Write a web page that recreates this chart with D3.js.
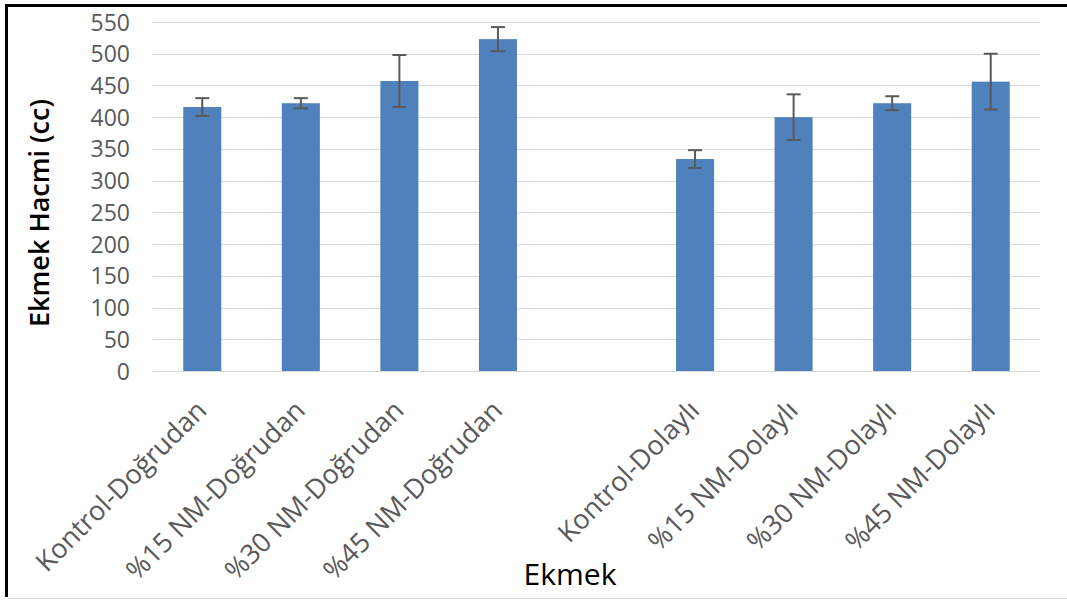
<!DOCTYPE html>
<html>
<head>
<meta charset="utf-8">
<script src="https://cdn.jsdelivr.net/npm/d3@7"></script>
<style>
  html, body { margin: 0; padding: 0; background: #fff; }
  svg { display: block; }
</style>
</head>
<body>
<svg id="chart" width="1067" height="600"></svg>
<script>
// ---- data ----
const categories = ["Kontrol-Doğrudan", "%15 NM-Doğrudan", "%30 NM-Doğrudan", "%45 NM-Doğrudan", "", "Kontrol-Dolaylı", "%15 NM-Dolaylı", "%30 NM-Dolaylı", "%45 NM-Dolaylı"];
const values = [416, 422, 457, 523, null, 334, 400, 422, 456];
const errors = [14, 8, 41, 19, null, 14, 36, 11, 44];
const yTicks = [0, 50, 100, 150, 200, 250, 300, 350, 400, 450, 500, 550];
const yTitle = "Ekmek Hacmi (cc)";
const xTitle = "Ekmek";

const svg = d3.select("#chart");
const W = 1067, H = 600;
const plot = { left: 153, right: 1040, top: 22, bottom: 371 };

const x = d3.scaleBand().domain(categories)
  .range([plot.left, plot.right]).paddingInner(0.614).paddingOuter(0.307);
const y = d3.scaleLinear().domain([0, 550]).range([plot.bottom, plot.top]);

const font = "'Open Sans', 'Noto Sans', sans-serif";

// frame
svg.append("rect").attr("x", 0).attr("y", 0).attr("width", W).attr("height", H).attr("fill", "#fff");
svg.append("line").attr("x1", 5).attr("x2", W).attr("y1", 5.5).attr("y2", 5.5).attr("stroke", "#000").attr("stroke-width", 3);
svg.append("line").attr("x1", 6.5).attr("x2", 6.5).attr("y1", 4).attr("y2", 597).attr("stroke", "#000").attr("stroke-width", 3);
svg.append("line").attr("x1", 8).attr("x2", W).attr("y1", 598.5).attr("y2", 598.5).attr("stroke", "#d9d9d9").attr("stroke-width", 1);

// gridlines
svg.append("g").selectAll("line").data(yTicks).join("line")
  .attr("x1", plot.left).attr("x2", plot.right)
  .attr("y1", d => Math.round(y(d)) + 0.5).attr("y2", d => Math.round(y(d)) + 0.5)
  .attr("stroke", "#d9d9d9").attr("stroke-width", 1);

// y axis labels
const yAxis = d3.axisLeft(y).tickValues(yTicks).tickSize(0).tickPadding(0);
const gy = svg.append("g").attr("transform", "translate(130,0)").call(yAxis);
gy.select(".domain").remove();
gy.selectAll("text").attr("font-family", font).attr("font-size", 23).attr("fill", "#595959").attr("dy", "0.35em");

// bars
const bars = categories.map((c, i) => ({ c, v: values[i], e: errors[i] })).filter(d => d.v != null);
svg.append("g").selectAll("rect").data(bars).join("rect")
  .attr("x", d => x(d.c)).attr("width", x.bandwidth())
  .attr("y", d => y(d.v)).attr("height", d => y(0) - y(d.v))
  .attr("fill", "#4f81bd");

// error bars
const eg = svg.append("g").attr("stroke", "#595959").attr("stroke-width", 2);
bars.forEach(d => {
  const cx = x(d.c) + x.bandwidth() / 2;
  eg.append("line").attr("x1", cx).attr("x2", cx).attr("y1", y(d.v + d.e)).attr("y2", y(d.v - d.e));
  eg.append("line").attr("x1", cx - 7).attr("x2", cx + 7).attr("y1", y(d.v + d.e)).attr("y2", y(d.v + d.e));
  eg.append("line").attr("x1", cx - 7).attr("x2", cx + 7).attr("y1", y(d.v - d.e)).attr("y2", y(d.v - d.e));
});

// x labels
svg.append("g").selectAll("text").data(categories.filter(c => c !== "")).join("text")
  .attr("transform", c => `translate(${x(c) + x.bandwidth() / 2 + 6},412) rotate(-45)`)
  .attr("text-anchor", "end")
  .attr("font-family", font).attr("font-size", 27).attr("fill", "#595959")
  .text(c => c);

// titles
svg.append("text").attr("transform", "translate(49,213) rotate(-90)")
  .attr("text-anchor", "middle").attr("font-family", font).attr("font-weight", 600)
  .attr("font-size", 27).attr("fill", "#000").text(yTitle);
svg.append("text").attr("x", 570).attr("y", 585)
  .attr("text-anchor", "middle").attr("font-family", font)
  .attr("font-size", 30).attr("fill", "#000").text(xTitle);
</script>
</body>
</html>
